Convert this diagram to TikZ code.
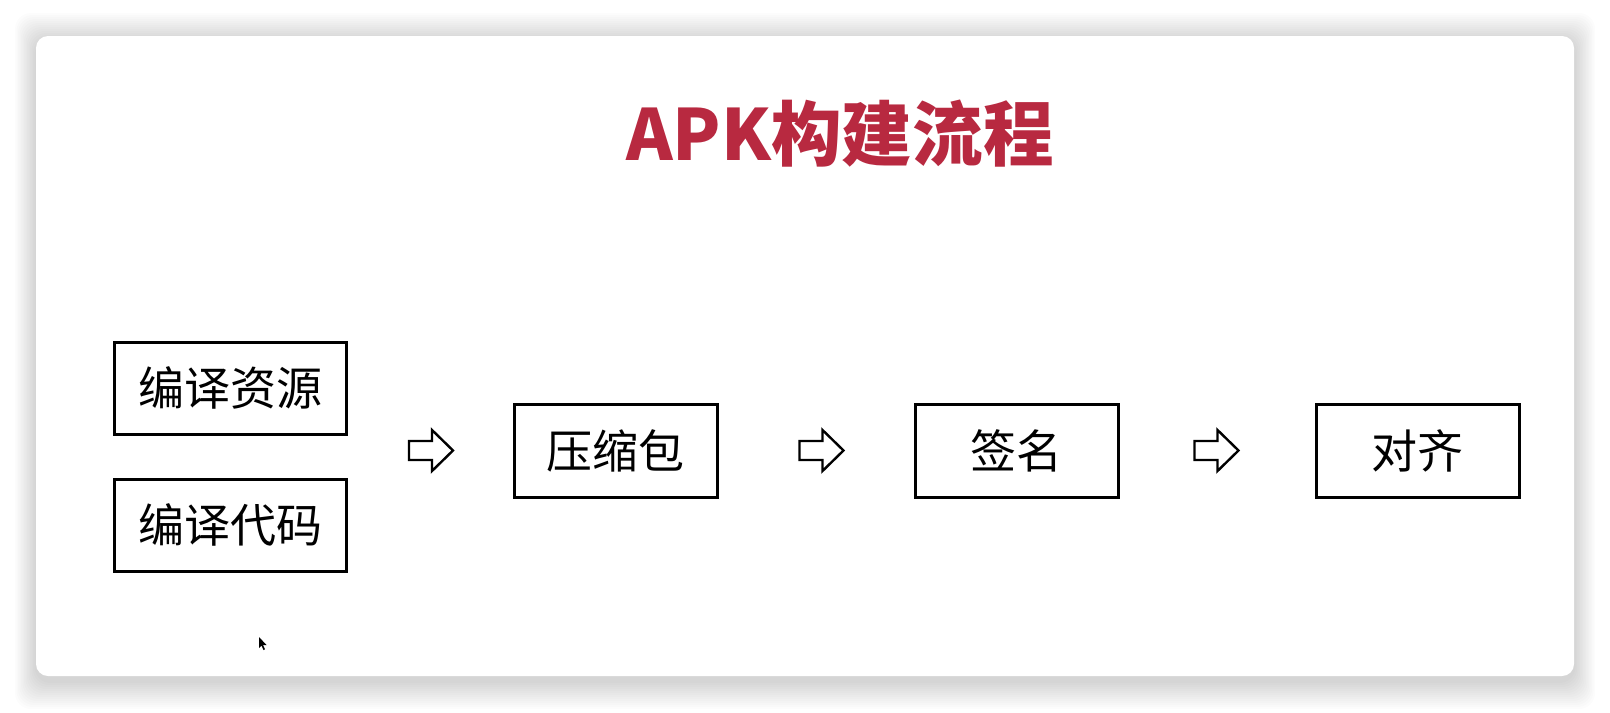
\documentclass[tikz,border=0pt]{standalone}
\usepackage{fontspec}
\newfontfamily\cjk{Noto Sans CJK SC}
\usetikzlibrary{calc}
\definecolor{titlered}{RGB}{184,41,64}
\begin{document}
\begin{tikzpicture}[x=0.5pt,y=-0.5pt,
  box/.style={draw=black, line width=1.5pt, inner sep=0pt, minimum height=46.5pt,
    font=\cjk\fontsize{23}{23}\selectfont},
  leftbox/.style={box, minimum width=116pt, minimum height=46pt},
  rightbox/.style={box, minimum width=101.5pt},
  hollowarrow/.pic={\draw[line width=1.2pt, line join=miter, fill=white]
     (-22,-9.5) -- (1,-9.5) -- (1,-20.5) -- (22,0) -- (1,20.5) -- (1,9.5) -- (-22,9.5) -- cycle;}
]
\useasboundingbox (0,0) rectangle (1610,712);
\fill[white] (0,0) rectangle (1610,712);
% card shadow
\foreach \i in {1,...,14}{
  \fill[black, opacity=0.010, rounded corners=8pt] (36-1.5*\i,36-2*\i+5) rectangle (1574+1.5*\i,676+2*\i+5);
}
\fill[white, rounded corners=6pt] (36,36) rectangle (1574,676);
% title
\node[anchor=base, text=titlered, font=\cjk\bfseries\fontsize{35.3}{35.3}\selectfont] (title) at (840,160) {APK构建流程};
% boxes
\node[leftbox] (res) at (230,388) {编译资源};
\node[leftbox] (code) at (230,525) {编译代码};
\node[rightbox] (zip) at (615.5,450.5) {压缩包};
\node[rightbox] (sign) at (1016.5,450.5) {签名};
\node[rightbox] (align) at (1417.5,450.5) {对齐};
% arrows
\coordinate (a1) at (431,450.5);
\coordinate (a2) at (821.5,450.5);
\coordinate (a3) at (1216.5,450.5);
\pic at (a1) {hollowarrow};
\pic at (a2) {hollowarrow};
\pic at (a3) {hollowarrow};
% mouse cursor
\fill[black] (259,637) -- (259,648) -- (261.5,645.5) -- (263.5,650) -- (265,649.3) -- (263,645) -- (266.5,645) -- cycle;
\end{tikzpicture}
\end{document}
